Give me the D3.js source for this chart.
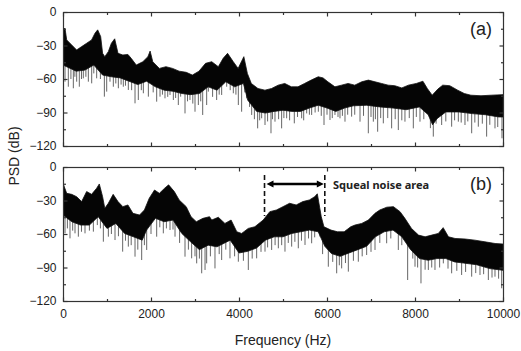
<!DOCTYPE html>
<html>
<head>
<meta charset="utf-8">
<script src="https://cdn.jsdelivr.net/npm/d3@7"></script>
<style>
body { margin: 0; background: #fff; }
svg text { font-family: "Liberation Sans", Arial, sans-serif; fill: #222; }
</style>
</head>
<body>
<div id="chart"></div>
<script>
// panel (a) - dense band, upper and lower edge
var aUpperHz = [0,45,84,197,310,424,537,650,727,788,856,900,950,1030,1100,1175,1250,1360,1475,1550,1665,1815,1930,1980,2040,2190,2340,2490,2640,2800,2940,3090,3240,3380,3530,3640,3740,3870,3980,4110,4190,4280,4430,4590,4740,4890,5040,5190,5340,5490,5640,5800,5910,6020,6180,6330,6480,6630,6790,6940,7090,7240,7390,7540,7700,7850,8030,8180,8280,8390,8520,8630,8790,8970,9120,9270,9500,9730,10000];
var aUpperDb = [-16,-14.5,-25,-29.5,-34,-31,-28,-25,-19,-16,-22,-37,-40,-35.5,-28,-24,-37,-38.5,-38,-41.5,-47.5,-44.5,-40,-35,-44.5,-50.5,-49,-50.5,-53,-54,-56.5,-53,-46,-44.5,-49,-41.5,-37,-44.5,-50.5,-40,-55,-64,-68.5,-70,-68.5,-65.5,-64,-67,-67,-64,-61,-58,-59,-62.5,-67,-65.5,-64,-65.5,-62.5,-61,-62.5,-64,-65.5,-66,-68,-65.5,-64,-62,-68.5,-74.5,-69,-65.5,-66,-70,-73,-74.5,-75,-74.5,-74];
var aLowerHz = [0,300,500,700,900,1100,1300,1500,1700,1900,2100,2300,2500,2700,2900,3100,3300,3500,3700,3900,4100,4200,4400,4600,4800,5000,5200,5400,5600,5800,6000,6200,6400,6600,6900,7200,7500,7800,8100,8300,8400,8500,8700,9000,9300,9600,9900,10000];
var aLowerDb = [-47.5,-53,-52,-47.5,-56.5,-58,-59,-62,-65,-62,-67,-70,-71,-73,-74,-73,-67,-70,-62.5,-67,-64,-79,-89,-90.5,-89,-88,-89,-89,-86,-83.5,-86,-89,-86,-84,-83.5,-85,-86,-87.5,-85,-92,-101,-95.5,-89.5,-89.5,-91,-92,-94,-94];
var aSpikeHz = [46,121,235,311,371,462,576,652,765,940,993,1068,1144,1258,1371,1485,1637,1712,1826,1940,2129,2205,2318,2432,2508,2621,2674,2773,2886,3000,3076,3175,3265,3303,3492,3606,3720,3871,3985,4060,4174,4288,4424,4515,4591,4727,4818,4969,5083,5257,5424,5538,5651,5803,5932,6068,6181,6295,6409,6560,6750,6939,7053,7151,7280,7469,7621,7772,7962,8113,8416,8606,8833,8985,9136,9288,9439,9628,9818,9977];
var aSpikeDb = [-62.4,-66.9,-68.3,-62.4,-66.9,-59.4,-62.4,-63.9,-59.4,-75.8,-71.3,-62.4,-66.9,-68.3,-66.9,-69.8,-81.8,-78.8,-72.8,-75.8,-80.3,-75.8,-77.3,-74.3,-78.8,-83.3,-75.8,-90.8,-78.8,-89.3,-83.3,-92.2,-83.3,-71.3,-78.8,-74.3,-66.9,-72.8,-83.3,-89.3,-77.3,-92.2,-104.2,-95.2,-101.2,-108.6,-98.2,-104.2,-95.2,-99.7,-95.2,-90.8,-92.2,-89.3,-101.2,-96.7,-92.2,-95.2,-98.2,-93.7,-98.2,-108.6,-98.2,-107.2,-99.7,-104.2,-105.7,-98.2,-104.2,-98.2,-111.6,-101.2,-102.7,-98.2,-101.2,-108.6,-102.7,-111.6,-104.2,-113.1];
// shorter grey fringe hanging under the band
var aFringeHz = [180,270,420,520,700,850,1200,1320,1420,1560,1780,2050,2260,2380,2560,2830,2950,3130,3400,3550,3800,3930,4130,4240,4350,4470,4650,4760,4900,5020,5150,5330,5470,5600,5730,5870,6000,6120,6250,6350,6470,6630,6830,7000,7100,7220,7380,7550,7700,7870,8030,8200,8350,8480,8700,8900,9050,9200,9360,9530,9700,9880];
var aFringeDb = [-60,-58,-60,-58,-55,-60,-64,-65,-66,-70,-70,-72,-74,-76,-77,-80,-82,-80,-76,-74,-70,-74,-72,-85,-96,-97,-98,-96,-96,-95,-97,-94,-97,-92,-90,-93,-92,-95,-94,-93,-92,-92,-93,-94,-96,-95,-95,-96,-97,-95,-94,-96,-104,-100,-98,-97,-99,-98,-99,-100,-101,-103];

// panel (b)
var bUpperHz = [0,84,197,310,424,537,650,765,825,900,950,1030,1140,1250,1360,1475,1590,1740,1850,1960,2080,2190,2310,2400,2530,2640,2800,2910,3030,3180,3330,3380,3530,3680,3820,3950,4060,4210,4360,4550,4700,4850,5000,5150,5300,5450,5600,5720,5780,5870,5930,6090,6240,6390,6540,6636,6790,6940,7090,7200,7360,7510,7660,7770,7920,8080,8230,8380,8530,8640,8760,8910,9140,9360,9590,9820,10000];
var bUpperDb = [-14.6,-23.6,-24.5,-26.6,-31,-22,-24.5,-19,-15.2,-26.6,-37,-32.5,-24.5,-31,-35.5,-34,-41.5,-43,-38.5,-28,-20.6,-23.6,-19,-16,-22,-29.5,-35.5,-44.5,-49,-46,-44.5,-47.5,-45,-50.5,-47.5,-58,-59.5,-55,-53.5,-47.5,-40,-38.5,-35.5,-32.5,-34,-31,-29.5,-26.6,-24,-44.5,-53.5,-56.5,-58,-58,-53.5,-52,-50.5,-47.5,-41.5,-38.5,-36,-35.5,-40,-46,-55,-61,-62.5,-61,-59.5,-54.3,-62.5,-64,-64.5,-65.5,-67,-68.5,-69];
var bLowerHz = [0,200,400,600,800,1000,1200,1400,1600,1800,1900,2100,2300,2500,2700,2900,3100,3300,3500,3800,4000,4200,4400,4600,4800,5000,5200,5400,5600,5800,5950,6100,6300,6500,6700,6900,7100,7300,7500,7700,7900,8100,8300,8500,8700,8900,9100,9400,9700,10000];
var bLowerDb = [-43,-49,-52,-52,-44.5,-55,-50.5,-59.5,-62.5,-65.5,-56.5,-46,-49,-47.5,-59.5,-67,-74,-70,-71.5,-65.5,-77,-75.5,-72.5,-65.5,-62.5,-62.5,-59.5,-58,-56.5,-58,-71,-77.5,-80,-77,-74,-71,-62.5,-58,-56.5,-62.5,-74,-82,-83.5,-82,-82,-85,-86,-87.5,-91,-92.5];
var bSpikeHz = [46,159,273,349,500,690,917,1031,1182,1356,1485,1637,1788,1902,2129,2280,2432,2546,2773,2924,3038,3152,3228,3265,3454,3606,3795,3985,4212,4401,4591,4742,4894,5045,5197,5348,5500,5651,5841,6030,6220,6333,6485,6712,6901,7091,7356,7621,7833,8000,8136,8303,8454,8644,8833,9060,9288,9477,9667,9818,9970];
var bSpikeDb = [-59.4,-63.9,-59.4,-62.4,-59.4,-57.9,-66.9,-62.4,-65.4,-75.8,-71.3,-80.3,-83.3,-74.3,-62.4,-59.4,-56.4,-62.4,-80.3,-81.8,-86.3,-95.2,-92.2,-86.3,-90.8,-83.3,-81.8,-84.8,-92.2,-81.8,-75.8,-74.3,-72.8,-75.8,-71.3,-72.8,-69.8,-68.3,-62.4,-89.3,-95.2,-90.8,-93.7,-84.8,-78.8,-74.3,-68.3,-74.3,-101.2,-89.3,-104.2,-92.2,-92.2,-86.3,-95.2,-96.7,-98.2,-96.7,-101.2,-98.2,-108.6];
var bFringeHz = [100,220,420,600,780,850,1100,1260,1420,1550,1700,1850,2000,2200,2350,2500,2650,2850,3000,3100,3350,3550,3700,3900,4100,4300,4500,4650,4820,4970,5120,5270,5420,5580,5720,5900,6130,6280,6420,6600,6800,7000,7200,7450,7700,7950,8060,8230,8380,8560,8750,8950,9150,9380,9560,9750,9900];
var bFringeDb = [-55,-57,-58,-57,-52,-55,-60,-62,-66,-70,-74,-70,-60,-54,-55,-56,-68,-74,-80,-82,-80,-78,-74,-80,-84,-82,-76,-72,-70,-70,-68,-67,-66,-64,-63,-78,-85,-88,-86,-84,-80,-76,-68,-64,-70,-82,-90,-92,-90,-90,-91,-93,-94,-95,-96,-99,-100];

var xTicks = [0, 2000, 4000, 6000, 8000, 10000];
var yTicks = [0, -30, -60, -90, -120];
var squealHz = [4580, 5950];

var width = 521, height = 351;
var left = 63, right = 503;
var panels = [
  { top: 12, bottom: 146, label: "(a)", up: [aUpperHz, aUpperDb], lo: [aLowerHz, aLowerDb],
    sp: [aSpikeHz, aSpikeDb], fr: [aFringeHz, aFringeDb], xLabels: false },
  { top: 167, bottom: 301, label: "(b)", up: [bUpperHz, bUpperDb], lo: [bLowerHz, bLowerDb],
    sp: [bSpikeHz, bSpikeDb], fr: [bFringeHz, bFringeDb], xLabels: true }
];

var svg = d3.select("#chart").append("svg")
  .attr("width", width)
  .attr("height", height);

var x = d3.scaleLinear().domain([0, 10000]).range([left, right]);

function pairs(hz, db) { return hz.map(function(h, i) { return [h, db[i]]; }); }

panels.forEach(function(p, k) {
  var y = d3.scaleLinear().domain([-120, 0]).range([p.bottom, p.top]);
  var g = svg.append("g");

  g.append("clipPath").attr("id", "clip" + k)
    .append("rect").attr("x", left).attr("y", p.top).attr("width", right - left).attr("height", p.bottom - p.top);

  var upper = pairs(p.up[0], p.up[1]);
  var lower = pairs(p.lo[0], p.lo[1]);
  var upScale = d3.scaleLinear().domain(p.up[0]).range(p.up[1]);

  var band = upper.concat(lower.slice().reverse());
  var plot = g.append("g").attr("clip-path", "url(#clip" + k + ")");

  var drops = pairs(p.sp[0], p.sp[1]).concat(pairs(p.fr[0], p.fr[1]));
  plot.selectAll("line.spike").data(drops).enter().append("line")
    .attr("class", "spike")
    .attr("x1", function(d) { return x(d[0]); })
    .attr("x2", function(d) { return x(d[0]); })
    .attr("y1", function(d) { return y(upScale(d[0]) - 4); })
    .attr("y2", function(d) { return y(d[1]); })
    .attr("stroke", "#555")
    .attr("stroke-width", 0.9);

  var line = d3.line().x(function(d) { return x(d[0]); }).y(function(d) { return y(d[1]); });
  plot.append("path")
    .datum(band)
    .attr("d", function(d) { return line(d) + "Z"; })
    .attr("fill", "#050505")
    .attr("stroke", "#111")
    .attr("stroke-width", 0.8)
    .attr("stroke-linejoin", "round");

  // frame with inward ticks on all four sides
  g.append("rect")
    .attr("x", left + 0.5).attr("y", p.top + 0.5)
    .attr("width", right - left).attr("height", p.bottom - p.top)
    .attr("fill", "none").attr("stroke", "#333").attr("stroke-width", 1.2);

  var minorX = d3.range(1000, 10000, 2000);
  var minorY = d3.range(-105, 0, 30);

  var bottomAx = d3.axisBottom(x).tickValues(xTicks).tickSize(-4).tickPadding(8)
    .tickFormat(p.xLabels ? d3.format("d") : "");
  var topAx = d3.axisTop(x).tickValues(xTicks).tickSize(-4).tickFormat("");
  var leftAx = d3.axisLeft(y).tickValues(yTicks).tickSize(-4).tickPadding(7).tickFormat(d3.format("d"));
  var rightAx = d3.axisRight(y).tickValues(yTicks).tickSize(-4).tickFormat("");

  function styleAx(sel) {
    sel.select(".domain").remove();
    sel.selectAll("line").attr("stroke", "#333").attr("stroke-width", 1.2);
    sel.selectAll("text").style("font-size", "12px").attr("fill", "#222");
  }
  g.append("g").attr("transform", "translate(0," + (p.bottom + 0.5) + ")").call(bottomAx).call(styleAx);
  g.append("g").attr("transform", "translate(0," + (p.top + 0.5) + ")").call(topAx).call(styleAx);
  g.append("g").attr("transform", "translate(" + (left + 0.5) + ",0)").call(leftAx).call(styleAx);
  g.append("g").attr("transform", "translate(" + (right + 0.5) + ",0)").call(rightAx).call(styleAx);

  g.append("g").attr("transform", "translate(0," + (p.bottom + 0.5) + ")")
    .call(d3.axisBottom(x).tickValues(minorX).tickSize(-2.5).tickFormat("")).call(styleAx);
  g.append("g").attr("transform", "translate(0," + (p.top + 0.5) + ")")
    .call(d3.axisTop(x).tickValues(minorX).tickSize(-2.5).tickFormat("")).call(styleAx);
  g.append("g").attr("transform", "translate(" + (left + 0.5) + ",0)")
    .call(d3.axisLeft(y).tickValues(minorY).tickSize(-2.5).tickFormat("")).call(styleAx);
  g.append("g").attr("transform", "translate(" + (right + 0.5) + ",0)")
    .call(d3.axisRight(y).tickValues(minorY).tickSize(-2.5).tickFormat("")).call(styleAx);

  g.append("text")
    .attr("x", 492).attr("y", p.top + 22.5)
    .attr("text-anchor", "end")
    .style("font-size", "18px")
    .text(p.label);

  if (k === 1) {
    // squeal noise annotation
    squealHz.forEach(function(f) {
      g.append("line")
        .attr("x1", x(f)).attr("x2", x(f))
        .attr("y1", 175).attr("y2", 216)
        .attr("stroke", "#111").attr("stroke-width", 1.6)
        .attr("stroke-dasharray", "5,3");
    });
    var ay = 184;
    var x0 = x(squealHz[0]) + 2, x1 = x(squealHz[1]) - 1;
    g.append("line")
      .attr("x1", x0 + 5).attr("x2", x1 - 5)
      .attr("y1", ay).attr("y2", ay)
      .attr("stroke", "#000").attr("stroke-width", 2.6);
    g.append("path")
      .attr("d", "M" + x0 + "," + ay + "L" + (x0 + 7) + "," + (ay - 3.5) + "L" + (x0 + 7) + "," + (ay + 3.5) + "Z")
      .attr("fill", "#000");
    g.append("path")
      .attr("d", "M" + x1 + "," + ay + "L" + (x1 - 7) + "," + (ay - 3.5) + "L" + (x1 - 7) + "," + (ay + 3.5) + "Z")
      .attr("fill", "#000");
    g.append("text")
      .attr("x", 333).attr("y", 189)
      .style("font-family", "'Noto Sans', sans-serif")
      .style("font-size", "11px")
      .style("font-weight", "bold")
      .text("Squeal noise area");
  }
});

svg.append("text")
  .attr("x", (left + right) / 2).attr("y", 345)
  .attr("text-anchor", "middle")
  .style("font-size", "14px")
  .text("Frequency (Hz)");

svg.append("text")
  .attr("transform", "translate(19,156) rotate(-90)")
  .attr("text-anchor", "middle")
  .style("font-size", "14px")
  .text("PSD (dB)");
</script>
</body>
</html>
